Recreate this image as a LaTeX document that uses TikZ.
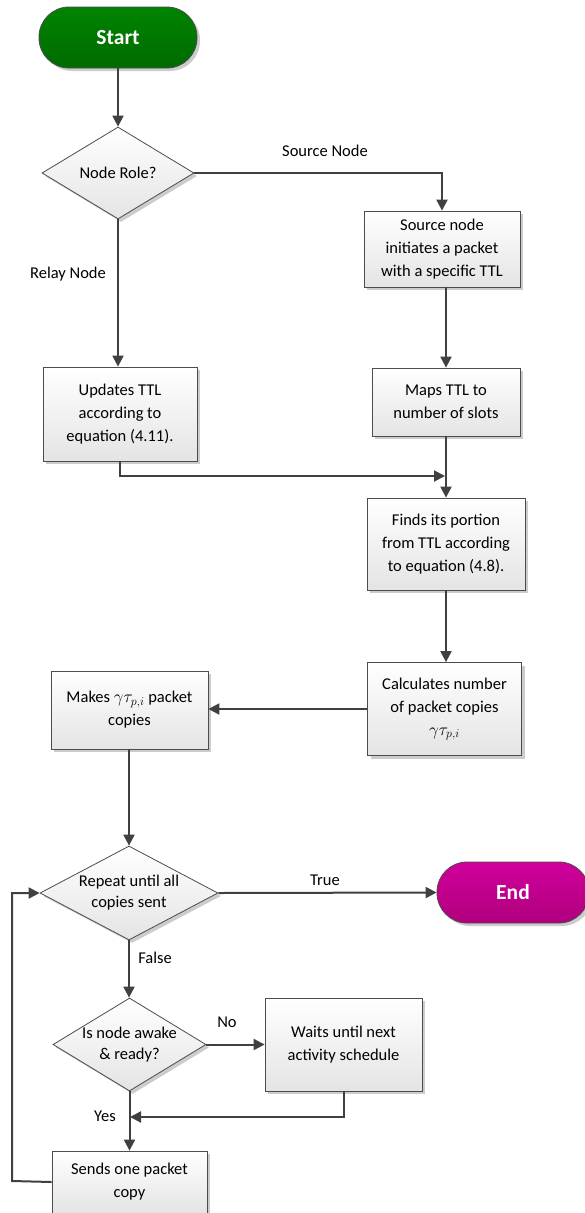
\documentclass[tikz,border=0pt]{standalone}
\usepackage{fontspec}
\setmainfont{Carlito}
\usetikzlibrary{shapes.geometric,shadows,arrows.meta}
\definecolor{wire}{HTML}{404040}
\definecolor{rim}{HTML}{4C4C4C}
\definecolor{boxlow}{HTML}{E4E4E4}
\definecolor{greentop}{HTML}{008400}
\definecolor{greenlow}{HTML}{006A00}
\definecolor{magtop}{HTML}{D0009C}
\definecolor{maglow}{HTML}{B0007E}
\begin{document}
\begin{tikzpicture}[x=1pt,y=-1pt,
  font=\fontsize{16.5}{23}\selectfont,
  shade/.style={drop shadow={shadow xshift=3pt,shadow yshift=-3pt,opacity=0.2,fill=black}},
  proc/.style={rectangle,draw=rim,line width=0.8pt,top color=white,bottom color=boxlow,
    shade,inner sep=0pt,align=center},
  dec/.style={diamond,draw=rim,line width=0.8pt,top color=white,bottom color=boxlow,
    shade,inner sep=0pt},
  dtext/.style={align=center,inner sep=0pt,font=\fontsize{16.5}{21}\selectfont},
  term/.style={rectangle,rounded corners=30pt,draw=rim,line width=0.8pt,shade,
    text=white,font=\fontsize{21.5}{24}\selectfont\bfseries,minimum height=61},
  flow/.style={draw=wire,line width=2pt,-{Triangle[length=11pt,width=11pt]}},
  tag/.style={inner sep=0pt}
]
\useasboundingbox (0,0) rectangle (584,1213);

% terminals
\node[term,top color=greentop,bottom color=greenlow,minimum width=158] (start) at (118,37.5) {Start};
\node[term,top color=magtop,bottom color=maglow,minimum width=152] (end) at (513,892.5) {End};

% decisions
\node[dec,minimum width=152,minimum height=92,
  label={[dtext]center:Node Role?}] (role) at (118,173) {};
\node[dec,minimum width=178,minimum height=94,
  label={[dtext]center:{Repeat until all\\copies sent}}] (rep) at (129,893) {};
\node[dec,minimum width=153,minimum height=93,
  label={[dtext]center:{Is node awake\\\& ready?}}] (awake) at (129.5,1044.5) {};

% process boxes
\node[proc,minimum width=156,minimum height=76] (src) at (442,249)
  {Source node\\initiates a packet\\with a specific TTL};
\node[proc,minimum width=154,minimum height=94] (upd) at (120,414)
  {Updates TTL\\according to\\equation (4.11).};
\node[proc,minimum width=148,minimum height=68] (maps) at (446,402)
  {Maps TTL to\\number of slots};
\node[proc,minimum width=158,minimum height=92] (finds) at (446,544)
  {Finds its portion\\from TTL according\\to equation (4.8).};
\node[proc,minimum width=154,minimum height=93] (calc) at (444.5,709)
  {Calculates number\\of packet copies\\$\gamma\tau_{p,i}$};
\node[proc,minimum width=157,minimum height=78] (makes) at (129.5,710)
  {Makes $\gamma\tau_{p,i}$ packet\\copies};
\node[proc,minimum width=157,minimum height=93] (waits) at (343.5,1044.5)
  {Waits until next\\activity schedule};
\node[proc,minimum width=155,minimum height=62] (sends) at (129.5,1182)
  {Sends one packet\\copy};

% edge labels
\node[tag] (lsrc) at (325,151) {Source Node};
\node[tag] (lrelay) at (68,274) {Relay Node};
\node[tag] (ltrue) at (325,880) {True};
\node[tag] (lfalse) at (155,958) {False};
\node[tag] (lno) at (227,1022) {No};
\node[tag] (lyes) at (105,1116) {Yes};

% junction points
\coordinate (join) at (445,476);
\coordinate (merge) at (130,1117);
\coordinate (loop) at (12,1181);

% connectors
\draw[flow] (start) -- (role);
\draw[flow] (role.east) -| (src.north);
\draw[flow] (role.south) -- (role.south |- upd.north);
\draw[flow] (src.south -| maps.north) -- (maps.north);
\draw[flow] (maps.south) -- (finds.north);
\draw[flow] (upd.south) |- (join);
\draw[flow] (finds.south) -- (finds.south |- calc.north);
\draw[flow] (calc.west) -- (calc.west -| makes.east);
\draw[flow] (makes.south -| rep.north) -- (rep.north);
\draw[flow] (rep.east) -- (end.west);
\draw[flow] (rep.south) -- (rep.south |- awake.north);
\draw[flow] (awake.east) -- (waits.west);
\draw[flow] (waits.south) |- (merge);
\draw[flow] (awake.south) -- (awake.south |- sends.north);
\draw[flow] (sends.west) -- (loop) |- (rep.west);
\end{tikzpicture}
\end{document}
